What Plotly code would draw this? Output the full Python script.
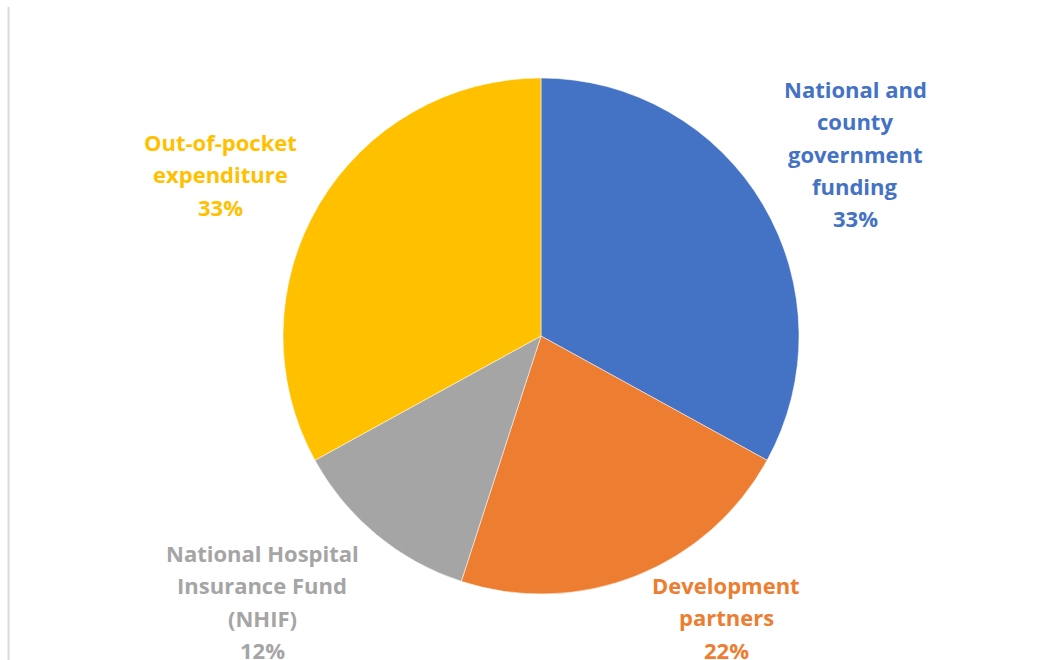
import plotly.graph_objects as go

categories = ["National and county government funding", "Development partners",
              "National Hospital Insurance Fund (NHIF)", "Out-of-pocket expenditure"]
values = [33, 22, 12, 33]
colors = ["#4472C4", "#ED7D31", "#A5A5A5", "#FFC000"]
label_lines = [
    ["National and", "county", "government", "funding", "33%"],
    ["Development", "partners", "22%"],
    ["National Hospital", "Insurance Fund", "(NHIF)", "12%"],
    ["Out-of-pocket", "expenditure", "33%"],
]
# label anchor (x center px, first line y px) and line spacing
label_pos = [(855, 89), (726, 585), (262, 553), (220, 142)]
line_gap = 32.3

W, H = 1061, 660

fig = go.Figure(go.Pie(
    labels=categories, values=values, sort=False, direction="clockwise", rotation=0,
    marker=dict(colors=colors, line=dict(color="white", width=0.5)),
    textinfo="none", hoverinfo="label+percent", showlegend=False,
    domain=dict(x=[283 / W, 799 / W], y=[1 - 594 / H, 1 - 78 / H]),
))

annotations = []
for lines, (cx, y0), col in zip(label_lines, label_pos, colors):
    for i, t in enumerate(lines):
        annotations.append(dict(
            x=cx / W, y=1 - (y0 + i * line_gap) / H, xref="paper", yref="paper",
            text="<b>" + t + "</b>", showarrow=False, xanchor="center", yanchor="middle",
            font=dict(family="Open Sans", size=22, color=col)))

fig.update_layout(
    width=W, height=H, margin=dict(l=0, r=0, t=0, b=0),
    paper_bgcolor="white", plot_bgcolor="white",
    annotations=annotations,
    shapes=[dict(type="line", xref="paper", yref="paper", x0=8.5 / W, x1=8.5 / W,
                 y0=0, y1=1 - 7 / H, line=dict(color="#D9D9D9", width=2))],
)

fig.write_html("out.html")
